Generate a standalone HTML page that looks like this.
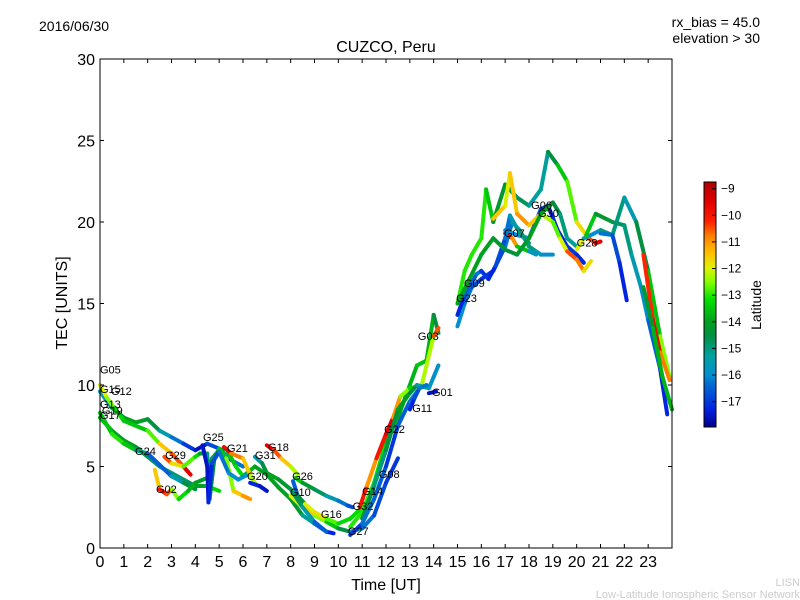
<!DOCTYPE html>
<html><head><meta charset="utf-8"><style>
body{margin:0;background:#fff}
svg{display:block;font-family:"Liberation Sans","DejaVu Sans",sans-serif}
</style></head><body>
<svg id="c" width="800" height="600" viewBox="0 0 800 600">
<text x="39" y="31" font-size="14">2016/06/30</text>
<text x="760" y="27" font-size="14" text-anchor="end">rx_bias = 45.0</text>
<text x="760" y="43" font-size="14" text-anchor="end">elevation &gt; 30</text>
<text x="386" y="52" font-size="16" text-anchor="middle">CUZCO, Peru</text>
<text x="386" y="590" font-size="16" text-anchor="middle">Time [UT]</text>
<text transform="translate(67,303) rotate(-90)" font-size="16" text-anchor="middle">TEC [UNITS]</text>
<text x="800" y="586" font-size="11" fill="#ccc" text-anchor="end">LISN</text>
<text x="800" y="598" font-size="11" fill="#ccc" text-anchor="end">Low-Latitude Ionospheric Sensor Network</text>
<defs><linearGradient id="cmap" x1="0" y1="1" x2="0" y2="0"></linearGradient></defs>
<g id="plot"></g>
<rect x="100" y="59" width="572" height="489" fill="none" stroke="#000" stroke-width="1"/>
<g id="axes"></g>
<rect x="704" y="182" width="12" height="245" fill="url(#cmap)" stroke="#000" stroke-width="1"/>
<g id="cbticks"></g>
<text transform="translate(761,305) rotate(-90)" font-size="14" text-anchor="middle">Latitude</text>
</svg>
<script>
const xTicks=[0,1,2,3,4,5,6,7,8,9,10,11,12,13,14,15,16,17,18,19,20,21,22,23];
const yTicks=[0,5,10,15,20,25,30];
const cbTicks=[-9,-10,-11,-12,-13,-14,-15,-16,-17];
const latMin=-17.95, latMax=-8.75;
// each track: points [time, tec, latitude]
const trackG12=[[0,9.6,-16],[0.5,8.6,-15],[1,8.0,-14],[1.5,7.7,-14],[2,7.9,-14],[2.5,7.2,-15],[3,6.8,-16],[3.5,6.4,-16.5],[4,6.0,-17.5],[4.5,6.4,-17.5],[5,6.1,-16],[5.5,5.4,-16],[6,5.0,-16.5]];
const trackG05=[[0,10,-12],[0.3,9.2,-12],[0.6,8.6,-13],[1,7.8,-13.5],[2,7.2,-13.5],[2.5,6.4,-12],[3,5.8,-11],[3.5,5.0,-10],[3.8,4.5,-9]];
const trackG13=[[0,8,-13.5],[0.5,7.2,-14],[1,6.6,-14],[1.5,6.2,-14],[2,5.6,-14.5],[2.5,5.0,-15],[3,4.6,-15],[3.5,4.2,-15],[4,3.8,-14.5],[4.5,3.8,-13.5],[5,3.5,-13]];
const trackG17=[[0,8.3,-14],[0.5,7,-13],[1,6.4,-13],[1.5,6,-14],[2,5.8,-16],[2.5,5.1,-17],[3,4.4,-16],[3.5,4.0,-15],[4,3.6,-14]];
const trackG02=[[2.3,4.8,-12],[2.5,3.6,-11],[2.8,3.3,-9],[3,3.6,-12],[3.3,3.0,-13],[3.7,3.5,-13.5],[4,4.0,-14],[4.5,4.3,-14],[4.7,5.5,-15],[5,6.0,-15],[5.3,6.1,-14],[5.7,5.0,-13],[6,4.4,-13.5],[6.5,5.0,-14],[7,4.5,-14],[7.5,3.7,-14],[8,3.0,-14],[8.5,2.0,-14.5],[9,1.5,-16],[9.5,1.0,-17],[9.8,0.9,-17.5]];
const trackG29=[[2.7,5.6,-10],[3,5.2,-11],[3.5,5.0,-12.5],[4,5.6,-13],[4.2,5.8,-13.5],[4.5,5.8,-15],[4.6,3.0,-15],[4.8,5.5,-14],[5,6.1,-14],[5.3,5.5,-13],[5.6,3.5,-12],[6,3.2,-11],[6.3,3.0,-11]];
const trackG25=[[4.3,6.3,-17.5],[4.5,5.0,-17.5],[4.55,2.8,-17.5],[4.7,5.2,-17],[5,5.9,-16.5],[5.4,4.6,-16],[5.8,4.2,-16],[6.2,4.5,-16]];
const trackG21=[[5.2,6.2,-9],[5.5,5.8,-10.5],[6,5.5,-11],[6.3,4.5,-12],[6.5,4,-12.5]];
const trackG18=[[7,6.3,-9],[7.3,6.0,-10],[7.6,5.5,-11],[8,5.0,-12],[8.3,4.5,-12.5]];
const trackG26=[[8.2,4.3,-13],[8.5,4.0,-14],[9,3.6,-14.5],[9.5,3.2,-15],[10,2.9,-16],[10.4,2.6,-16.5],[10.6,2.5,-17]];
const trackG16=[[8,3.2,-13],[8.5,2.5,-11],[9,2.0,-12],[9.5,1.6,-13],[10,1.2,-14],[10.5,1.0,-15],[11,1.2,-16],[11.5,2.0,-16.5],[12,4.0,-17],[12.5,5.5,-17]];
const trackG31=[[6.5,5.6,-16],[6.8,5.2,-15],[7,4.6,-14],[7.5,4.2,-14],[8,3.6,-14.5],[8.5,2.5,-15],[9,1.6,-16],[9.5,1.0,-17]];
const trackG20=[[6.3,4.0,-17],[6.7,3.8,-17.5],[7,3.5,-17.5]];
const trackG10=[[8.1,4.1,-17],[8.3,3.2,-16],[8.6,2.7,-13],[9,2.2,-11],[9.5,1.8,-12.5],[10,1.5,-13],[10.5,1.8,-13.5],[11,2.5,-13],[11.3,3.0,-12]];
const trackG22=[[10.5,1.3,-13],[11,2.2,-13],[11.5,4,-13],[12,6.5,-13.5],[12.5,8,-14],[12.8,9.2,-14],[13,10,-14],[13.3,11.2,-13.5],[13.7,11.5,-13.5],[14,14.3,-14],[14.2,13.2,-15]];
const trackG32=[[10.9,2.5,-9],[11.2,3.8,-11],[11.6,5.5,-11],[12,7,-9],[12.3,8,-10],[12.6,9.3,-12],[13,9.8,-13],[13.5,10,-13.5],[14,13,-11],[14.2,13.5,-10]];
const trackG14=[[11,1.8,-14],[11.5,3.8,-15],[12,6,-15],[12.5,8.5,-14],[13,9.5,-14],[13.3,10,-15],[13.8,9.8,-15.5],[14,10.5,-16],[14.2,11.2,-16]];
const trackG08=[[10.5,0.8,-17.5],[11,1.5,-16.5],[11.5,3,-16],[12,5,-17],[12.5,7.5,-17],[13,9,-16],[13.3,9.6,-16.5]];
const trackG11=[[13,8.5,-17.5],[13.2,9.2,-17],[13.4,9.8,-16.5],[13.7,10,-16]];
const trackG01=[[13.8,9.5,-17.5],[14.1,9.6,-17.5]];
const trackG23=[[15,13.6,-16],[15.3,15,-16],[15.6,16,-16.5],[16,16.5,-17],[16.5,17,-17],[17,18.5,-16.5],[17.3,20,-16],[17.6,19.5,-15.5],[18,18.5,-15],[18.3,18.2,-15],[18.5,18,-16],[19,18,-16]];
const trackTop=[[15,15,-13],[15.3,17,-13],[15.6,18,-13],[16,19,-13],[16.2,22,-13],[16.5,20,-14],[17,22.3,-14.5],[17.5,21.5,-14.5],[18,21,-15],[18.5,22,-15.5],[18.8,24.3,-15],[19.2,23.5,-14],[19.6,22.5,-13],[20,20,-12.5],[20.5,19,-11],[20.8,18.7,-10],[21,18.8,-9]];
const trackG06=[[17,19.5,-16],[17.5,19.2,-16],[18,19.0,-16],[18.5,20.8,-17],[18.8,21,-17],[19.2,19.5,-17.5],[19.6,18.5,-17],[20,18,-17],[20.3,17.5,-17.5]];
const trackG30=[[16.5,20.2,-11],[17,21,-12],[17.2,23,-12],[17.5,20.5,-11],[18,19.8,-11],[18.5,20.5,-12],[19,20,-12.5],[19.3,19,-13],[19.6,18.2,-11],[20,17.7,-10],[20.3,17,-11.5],[20.6,17.6,-12]];
const trackG07=[[17,19.3,-10],[17.3,19,-9],[17.5,18.5,-13],[18,18.2,-14],[18.3,18,-17.5]];
const trackG09=[[15,14.3,-17.5],[15.3,15.5,-17],[15.8,16.8,-16],[16,17,-16.5],[16.3,16.5,-17.5],[16.6,17.3,-17],[17,19,-16.5],[17.2,20.4,-16],[17.5,19.6,-15],[18,18.7,-15]];
const trackMid=[[15,15,-14],[15.5,16.5,-14],[16,18,-14],[16.5,19,-14],[17,18.3,-14.5],[17.5,18,-14.5],[18,19,-14],[18.5,20.5,-14],[19,21.2,-14],[19.3,20.5,-15],[19.6,19,-15],[20,18.5,-15.5]];
const trackG28=[[20,18.3,-9],[20.3,19,-15],[20.6,19.2,-16],[21,19.5,-16],[21.5,19.2,-14],[22,21.5,-16],[22.5,20,-15],[23,17,-14],[23.5,13,-13],[23.9,10.5,-12]];
const trackLate=[[20.4,19.2,-13],[20.8,20.5,-14],[21.5,20,-14.5],[22,19.8,-15],[22.3,18,-15],[22.7,16,-16],[23,14,-16],[23.5,11,-17],[23.8,8.2,-17.5]];
const trackDrop=[[21,19.3,-16],[21.5,19.2,-16.5],[21.8,17.5,-17],[22.1,15.2,-17.5]];
const trackEve=[[22.8,18,-10.5],[23.2,14,-10],[23.5,12,-9.5],[23.9,10.3,-12]];
const trackEnd=[[22.8,16,-14.5],[23.2,13.5,-14],[23.6,10.5,-13.5],[24,8.5,-14]];
const tracks=[trackG12,trackG05,trackG13,trackG17,trackG02,trackG29,trackG25,trackG21,trackG18,trackG26,trackG16,trackG31,trackG20,trackG10,trackG22,trackG32,trackG14,trackG08,trackG11,trackG01,trackG23,trackTop,trackG06,trackG30,trackG07,trackG09,trackMid,trackG28,trackLate,trackDrop,trackEve,trackEnd];
const labelNames=["G05","G15","G12","G13","G19","G17","G24","G29","G25","G21","G18","G31","G20","G26","G10","G02","G16","G27","G32","G14","G08","G22","G11","G01","G03","G23","G09","G07","G06","G30","G28"];
const labelTimes=[0,0,0.46,0,0.08,0,1.47,2.73,4.32,5.33,7.05,6.5,6.17,8.06,7.97,2.35,9.27,10.4,10.6,11.0,11.7,11.92,13.1,13.93,13.34,14.94,15.27,16.95,18.09,18.38,20.0];
const labelTecs=[10.7,9.5,9.4,8.6,8.2,7.9,5.7,5.46,6.56,5.9,5.95,5.46,4.17,4.17,3.19,3.37,1.84,0.8,2.33,3.25,4.3,7.05,8.34,9.33,12.76,15.1,16.0,19.08,20.8,20.3,18.5];

const NS='http://www.w3.org/2000/svg';
const X=t=>100+t*572/24, Y=v=>548-v*489/30;
const CY=l=>182+(latMax-l)/(latMax-latMin)*245;
const cmStops=[[0,[0,0,138]],[0.07,[0,32,224]],[0.18,[0,112,208]],[0.21,[0,144,208]],[0.29,[0,160,160]],[0.375,[0,144,64]],[0.43,[0,160,32]],[0.52,[0,224,0]],[0.59,[128,255,0]],[0.65,[224,240,0]],[0.71,[255,192,0]],[0.78,[255,128,0]],[0.84,[255,32,0]],[0.92,[224,0,0]],[1,[176,0,0]]];
function cmap(l){let v=(l-latMin)/(latMax-latMin);v=Math.max(0,Math.min(1,v));
 for(let i=0;i<cmStops.length-1;i++){const a=cmStops[i],b=cmStops[i+1];
  if(v<=b[0]){const f=(v-a[0])/(b[0]-a[0]);const c=a[1].map((x,k)=>Math.round(x+(b[1][k]-x)*f));return `rgb(${c[0]},${c[1]},${c[2]})`;}}
 return 'rgb(176,0,0)';}
function mk(tag,attrs,parent){const e=document.createElementNS(NS,tag);for(const k in attrs)e.setAttribute(k,attrs[k]);parent.appendChild(e);return e;}
const grad=document.getElementById('cmap');
cmStops.forEach(s=>mk('stop',{offset:s[0],'stop-color':`rgb(${s[1].join(',')})`},grad));
const plot=document.getElementById('plot');
tracks.forEach((tr,ti)=>{
 const g=mk('g',{},plot);
 
 
 for(let i=0;i<tr.length-1;i++){
  const a=tr[i],b=tr[i+1];
  const ln=mk('line',{x1:X(a[0]),y1:Y(a[1]),x2:X(b[0]),y2:Y(b[1]),stroke:cmap((a[2]+b[2])/2),'stroke-width':4,'stroke-linecap':'round'},g);
  
  
 }
});
labelNames.forEach((n,i)=>{
 const t=mk('text',{x:X(labelTimes[i]),y:Y(labelTecs[i]),'font-size':11},plot);
 t.textContent=n;
 
 
});
const ax=document.getElementById('axes');
xTicks.forEach(v=>{
 const x=X(v);
 const a=mk('line',{x1:x,y1:548,x2:x,y2:544,stroke:'#000'},ax);
 
 
 const b=mk('line',{x1:x,y1:59,x2:x,y2:63,stroke:'#000'},ax);
 
 
 const t=mk('text',{x:x,y:567,'font-size':16,'text-anchor':'middle'},ax);
 t.textContent=v;
 
 
});
yTicks.forEach(v=>{
 const y=Y(v);
 const a=mk('line',{x1:100,y1:y,x2:104,y2:y,stroke:'#000'},ax);
 
 
 const b=mk('line',{x1:672,y1:y,x2:668,y2:y,stroke:'#000'},ax);
 
 
 const t=mk('text',{x:95,y:y+6,'font-size':16,'text-anchor':'end'},ax);
 t.textContent=v;
 
 
});
const cb=document.getElementById('cbticks');
cbTicks.forEach(v=>{
 const y=CY(v);
 const a=mk('line',{x1:712,y1:y,x2:716,y2:y,stroke:'#000'},cb);
 
 
 const t=mk('text',{x:721,y:y+4,'font-size':12},cb);
 t.textContent='\u2212'+Math.abs(v);
 
 
});
</script>
</body></html>
